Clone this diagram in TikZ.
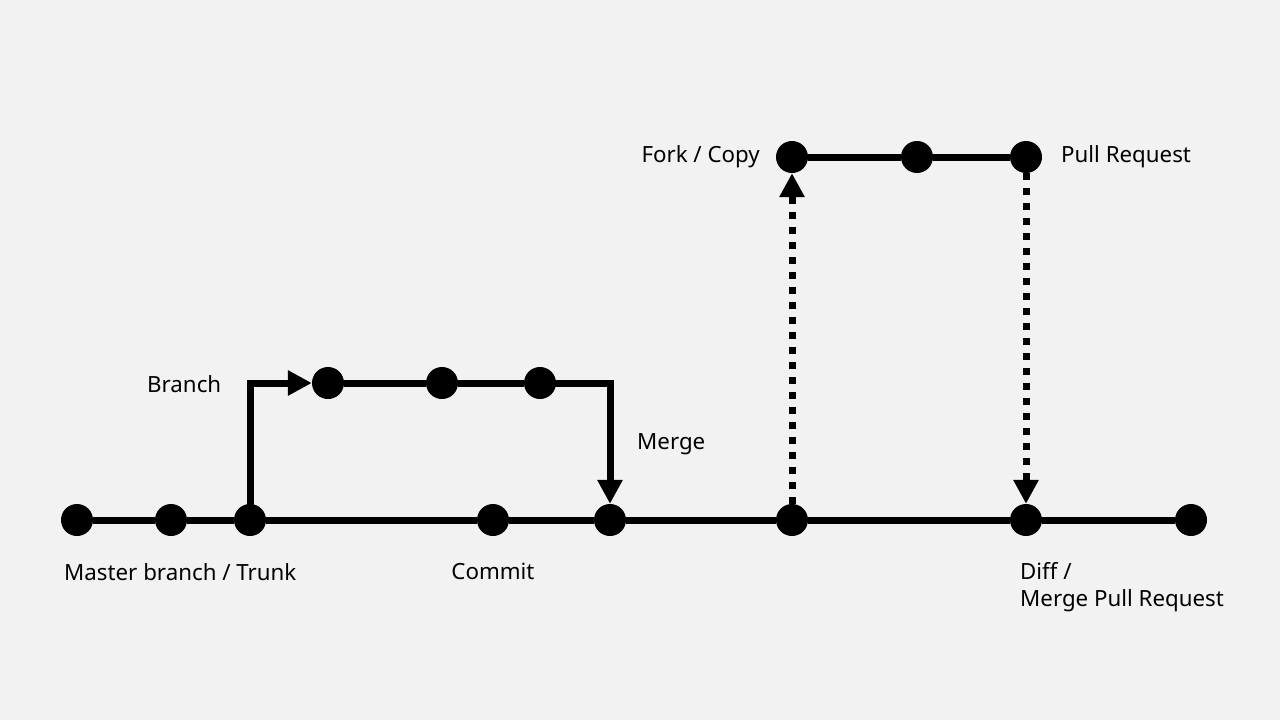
\documentclass[tikz,border=0pt]{standalone}
\usepackage{fontspec}
\setmainfont{Noto Sans}
\usetikzlibrary{arrows.meta}
\definecolor{bg}{HTML}{F2F2F2}
\begin{document}
\begin{tikzpicture}[x=1pt,y=-1pt,
  dot/.style={circle,fill=black,minimum size=32pt,inner sep=0pt},
  conn/.style={line width=7pt,black},
  tipped/.style={-{Triangle[length=24pt,width=24pt]}},
  dotline/.style={line width=7pt,dash pattern=on 7pt off 8pt},
  lbl/.style={font=\fontsize{22.3}{30}\selectfont,inner sep=0pt}]
\fill[bg] (0,0) rectangle (1280,720);
\useasboundingbox (0,0) rectangle (1280,720);
% main line dots
\node[dot] (m1) at (77,520) {};
\node[dot] (m2) at (171,520) {};
\node[dot] (m3) at (250,520) {};
\node[dot] (m4) at (493,520) {};
\node[dot] (m5) at (610,520) {};
\node[dot] (m6) at (792,520) {};
\node[dot] (m7) at (1026,520) {};
\node[dot] (m8) at (1191,520) {};
% branch dots
\node[dot] (b1) at (328,383) {};
\node[dot] (b2) at (442,383) {};
\node[dot] (b3) at (540,383) {};
% fork dots
\node[dot] (f1) at (792,157) {};
\node[dot] (f2) at (917,157) {};
\node[dot] (f3) at (1026,157) {};
% main line
\draw[conn] (m1) -- (m2) -- (m3) -- (m4) -- (m5) -- (m6) -- (m7) -- (m8);
% branch
\draw[conn,tipped] (m3.center) -- (m3.center |- b1) -- (b1.west);
\draw[conn] (b1) -- (b2) -- (b3);
\draw[conn,tipped] (b3.center) -- (b3.center -| m5) -- (m5.north);
% fork
\draw[conn] (f1) -- (f2) -- (f3);
\draw[dotline,tipped] (m6.north) -- (f1.south);
\draw[dotline,tipped] (f3.south) -- (m7.north);
% labels
\node[lbl,anchor=west] (tBranch) at (147,384) {Branch};
\node[lbl,anchor=west] (tMerge) at (637,444) {Merge};
\node[lbl,anchor=east] (tFork) at (760,157) {Fork / Copy};
\node[lbl,anchor=west] (tPR) at (1061,157) {Pull Request};
\node[lbl,anchor=west] (tMaster) at (64,572) {Master branch / Trunk};
\node[lbl] (tCommit) at (493,571) {Commit};
\node[lbl,anchor=west] (tDiff) at (1020,571) {Diff /};
\node[lbl,anchor=west] (tMPR) at (1020,601) {Merge Pull Request};
\end{tikzpicture}
\end{document}
